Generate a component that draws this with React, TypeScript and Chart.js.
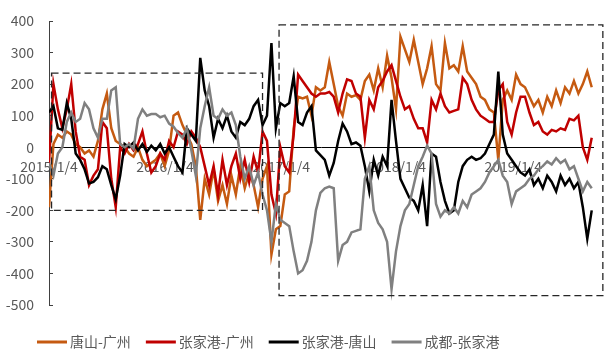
import React, { useEffect, useRef } from 'react';
import { Chart, registerables } from 'chart.js';

Chart.register(...registerables);

const START_DATE = '2015/1/4';
const STEP_DAYS = 14;
const X_MAX_DAYS = 1712;
const TICK_LABELS = ['2015/1/4', '2016/1/4', '2017/1/4', '2018/1/4', '2019/1/4'];
const SERIES_NAMES = ['唐山-广州', '张家港-广州', '张家港-唐山', '成都-张家港'];

const TANGSHAN_GUANGZHOU = [
  -190, 10, 40, 30, 50, 40, 10, 0, -20, -10,
  -30, 20, 120, 170, 60, 20, 10, 0, -20, -30,
  0, -40, -60, -50, -40, -20, -60, -10, 100, 110,
  70, 40, 10, -60, -230, -100, -150, -70, -170, -120,
  -180, -90, -150, -60, -130, -80, -120, -190, -100, -60,
  -340, -260, -250, -150, -140, 60, 160, 155, 160, 100,
  190, 180, 190, 270, 200, 130, 100, 170, 160, 165,
  150, 210, 230, 180, 250, 190, 290, 220, 120, 350,
  310, 270, 340, 270, 200, 250, 320, 200, 180, 330,
  250, 260, 240, 320, 240, 220, 200, 160, 150, 120,
  110, -40, 150, 180, 150, 230, 200, 190, 160, 130,
  150, 110, 160, 130, 180, 140, 190, 170, 210, 170,
  200, 240, 190,
];

const ZHANGJIAGANG_GUANGZHOU = [
  -50, 200, 120, 60, 120, 200, 50, -30, -40, -120,
  -90, -70, 80, 60, -100, -190, 0, -20, 10, -10,
  10, 50, -20, -80, -60, -20, -40, 20, 0, 50,
  40, 10, 50, 30, 0, -60, -120, -60, -150, -40,
  -120, -60, -20, -100, -40, -110, -30, -80, 50, 20,
  -150, -210, 0, -60, -80, 40, 230, 210, 190, 170,
  160, 170, 170, 175, 160, 110, 170, 215, 210, 170,
  160, 30, 150, 120, 190, 210, 240, 260, 210, 160,
  120, 130, 90, 60, 60, 15, 150, 120, 170, 130,
  110, 115, 120, 220, 200, 150, 120, 100, 90, 80,
  80, 180, 200, 80, 40, 110, 160, 160, 110, 70,
  80, 50, 40, 55, 50, 60, 55, 90, 85, 100,
  0, -40, 30,
];

const ZHANGJIAGANG_TANGSHAN = [
  110, 130, 60, 55, 140, 90, -20, -40, -70, -115,
  -110, -95, -60, -70, -120, -165, -90, 10, 0, 15,
  -10, 10, -15, 5, -10, 10, -20, 0, -30, -60,
  -80, 60, 40, 20, 283, 180, 130, 30, 90, 60,
  100, 50, 30, 80, 70, 90, 130, 150, 70, 100,
  330, 60, 140, 130, 140, 225, 80, 70, 110, 130,
  -10, -25, -40, -90, -50, 20, 75, 50, 10, 15,
  5, -60, -140, -40, -90, -30, -60, 150, 20, -100,
  -130, -160, -170, -200, -120, -250, -20, -30, -110, -170,
  -210, -200, -110, -60, -40, -30, -40, -35, -20, 10,
  40, 240, 40, -20, -40, -60, -80, -90, -70, -120,
  -100, -130, -90, -110, -140, -90, -120, -100, -130, -110,
  -190, -290, -200,
];

const CHENGDU_ZHANGJIAGANG = [
  -50, -90, -20, 0, 80, 110, 80, 90, 140, 120,
  60, 30, 90, 90, 180, 190, 10, 0, 10, -5,
  90, 120, 100, 105, 105, 95, 100, 75, 65, 45,
  30, 60, -10, -90, 60, 130, 190, 100, 90, 120,
  100, 110, 70, -30, -100, -60, -120, -80, -150, -200,
  -300, -180, -230, -240, -250, -330, -400, -390, -360, -300,
  -200, -145, -130, -125, -130, -360, -310, -300, -270, -265,
  -260, -100, -60, -200, -240, -260, -300, -450, -330, -250,
  -200, -180, -120, -60, -30, 5, -20, -180, -220, -200,
  -210, -190, -210, -170, -190, -150, -140, -130, -110, -80,
  -60, -40, -90, -110, -180, -140, -130, -120, -100, -90,
  -70, -60, -45, -55, -35, -50, -40, -70, -60, -100,
  -140, -110, -130,
];

const SERIES_VALUES = [TANGSHAN_GUANGZHOU, ZHANGJIAGANG_GUANGZHOU, ZHANGJIAGANG_TANGSHAN, CHENGDU_ZHANGJIAGANG];
const SERIES_COLORS = ['#C55A11', '#C00000', '#000000', '#808080'];

// dashed highlight boxes: [fromDay, toDay], [low, high]
const BOX_DAYS = [[8, 672], [724, 1743]];
const BOX_VALUES = [[-200, 235], [-470, 388]];

const Y_MIN = -500;
const Y_MAX = 400;
const Y_STEP = 100;

const FONT = '"Noto Sans CJK SC", "Microsoft YaHei", sans-serif';
const TEXT_COLOR = '#595959';

function parseDay(label: string): number {
  const [y, m, d] = label.split('/').map(Number);
  const [y0, m0, d0] = START_DATE.split('/').map(Number);
  return Math.round((Date.UTC(y, m - 1, d) - Date.UTC(y0, m0 - 1, d0)) / 86400000);
}
const TICK_DAYS = TICK_LABELS.map(parseDay);

const boxPlugin = {
  id: 'dashedBoxes',
  afterDatasetsDraw(chart: any) {
    const { ctx, scales } = chart;
    const xs = scales.x;
    const ys = scales.y;
    ctx.save();
    ctx.setLineDash([7, 4]);
    ctx.strokeStyle = '#262626';
    ctx.lineWidth = 1.3;
    BOX_DAYS.forEach((d, k) => {
      const x1 = xs.getPixelForValue(d[0]);
      const x2 = xs.getPixelForValue(d[1]);
      const y1 = ys.getPixelForValue(BOX_VALUES[k][1]);
      const y2 = ys.getPixelForValue(BOX_VALUES[k][0]);
      ctx.strokeRect(x1, y1, x2 - x1, y2 - y1);
    });
    ctx.restore();
  },
};

const legendPlugin = {
  id: 'bottomLegend',
  afterDraw(chart: any) {
    const { ctx } = chart;
    ctx.save();
    ctx.font = `14px ${FONT}`;
    ctx.textBaseline = 'middle';
    ctx.textAlign = 'left';
    let x = 37;
    const y = 342;
    SERIES_NAMES.forEach((name, k) => {
      ctx.strokeStyle = SERIES_COLORS[k];
      ctx.lineWidth = 3;
      ctx.beginPath();
      ctx.moveTo(x, y);
      ctx.lineTo(x + 30, y);
      ctx.stroke();
      ctx.fillStyle = TEXT_COLOR;
      ctx.fillText(name, x + 33, y);
      x += 33 + ctx.measureText(name).width + 15;
    });
    ctx.restore();
  },
};

export default function App() {
  const ref = useRef<HTMLCanvasElement | null>(null);

  useEffect(() => {
    if (!ref.current) return;
    const datasets = SERIES_VALUES.map((vals, k) => ({
      label: SERIES_NAMES[k],
      data: vals.map((v, i) => ({ x: i * STEP_DAYS, y: v })),
      borderColor: SERIES_COLORS[k],
      backgroundColor: SERIES_COLORS[k],
      borderWidth: 2.5,
      pointRadius: 0,
      tension: 0,
      order: SERIES_VALUES.length - 1 - k,
    }));
    const chart = new Chart(ref.current, {
      type: 'line',
      data: { datasets },
      options: {
        animation: false,
        responsive: false,
        maintainAspectRatio: false,
        layout: { padding: { top: 21, right: 13, bottom: 44, left: 0 } },
        plugins: { legend: { display: false }, tooltip: { enabled: false } },
        scales: {
          x: {
            type: 'linear',
            min: 0,
            max: X_MAX_DAYS,
            position: { y: 0 } as any,
            afterBuildTicks: (s: any) => {
              s.ticks = TICK_DAYS.map((v) => ({ value: v }));
            },
            afterFit: (s: any) => {
              s.height = 0;
            },
            ticks: {
              autoSkip: false,
              maxRotation: 0,
              color: TEXT_COLOR,
              font: { size: 14, family: FONT },
              padding: 11,
              callback: (v: any) => {
                const idx = TICK_DAYS.indexOf(Number(v));
                return idx >= 0 ? TICK_LABELS[idx] : '';
              },
            },
            grid: { display: true, drawOnChartArea: false, drawTicks: false },
            border: { display: true, color: '#000000', width: 1 },
          },
          y: {
            min: Y_MIN,
            max: Y_MAX,
            afterFit: (s: any) => {
              s.width = 49;
              s.paddingTop = 0;
              s.paddingBottom = 0;
            },
            ticks: {
              stepSize: Y_STEP,
              color: TEXT_COLOR,
              font: { size: 14, family: FONT },
              padding: 19,
            },
            grid: { drawOnChartArea: false, drawTicks: true, tickLength: -4, color: '#404040' },
            border: { display: true, color: '#404040', width: 1 },
          },
        },
      },
      plugins: [boxPlugin, legendPlugin],
    } as any);
    return () => chart.destroy();
  }, []);

  return (
    <div style={{ position: 'fixed', left: 0, top: 0, width: 606, height: 349, background: '#fff' }}>
      <canvas ref={ref} width={606} height={349} style={{ display: 'block' }} />
    </div>
  );
}
